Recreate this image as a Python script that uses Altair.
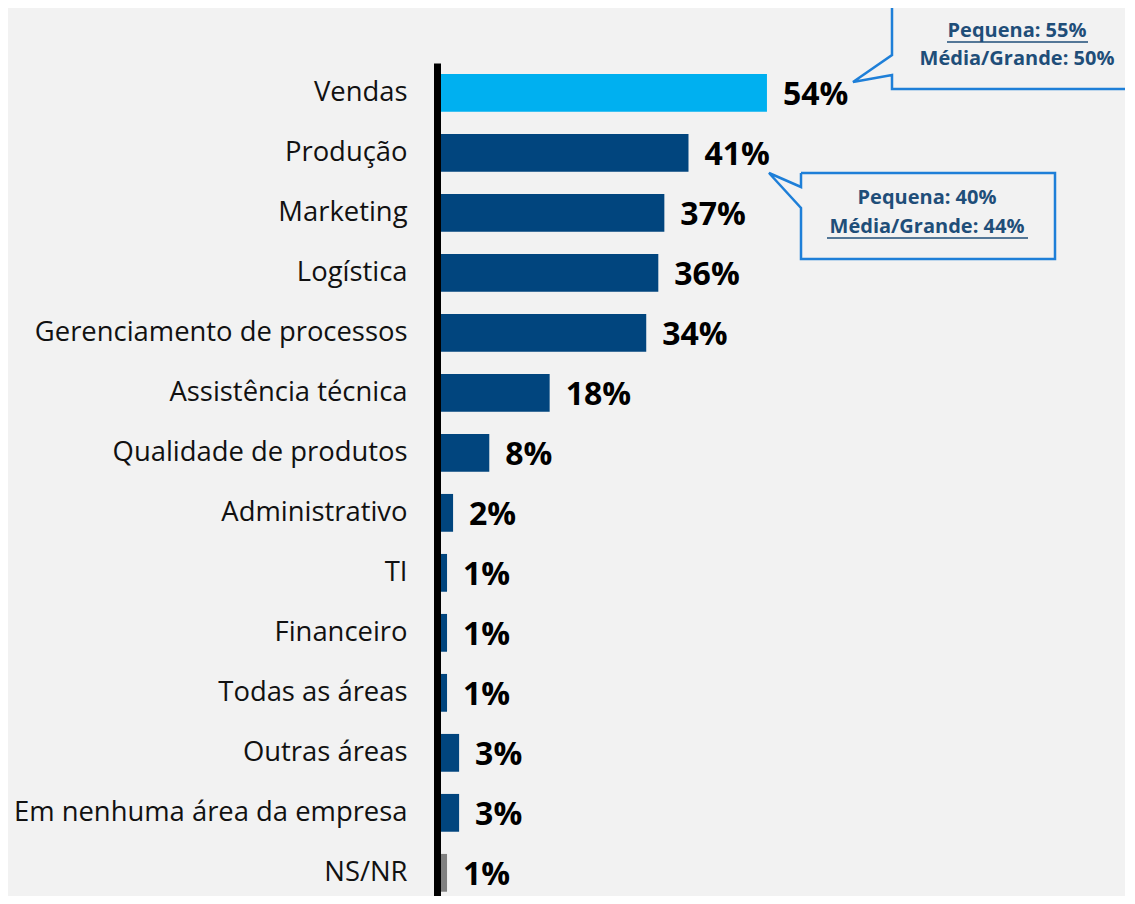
import altair as alt
import pandas as pd

categories = ["Vendas", "Produção", "Marketing", "Logística", "Gerenciamento de processos",
              "Assistência técnica", "Qualidade de produtos", "Administrativo", "TI",
              "Financeiro", "Todas as áreas", "Outras áreas", "Em nenhuma área da empresa", "NS/NR"]
values = [54, 41, 37, 36, 34, 18, 8, 2, 1, 1, 1, 3, 3, 1]
labels = [f"{v}%" for v in values]
groups = ["destaque" if c == "Vendas" else ("nsnr" if c == "NS/NR" else "padrao") for c in categories]

# callouts (annotation text)
callout_lines = ["Pequena: 55%", "Média/Grande: 50%", "Pequena: 40%", "Média/Grande: 44%"]

BG = "#F2F2F2"
DARK = "#01457E"
LIGHT = "#00B0F0"
GRAY = "#808080"
CALL_STROKE = "#1E7FD8"
CALL_TEXT = "#1F4E79"

OX, OY = 441, 63  # plot origin on page
PADL, PADT = OX - 8, OY - 8

df = pd.DataFrame({"cat": categories, "val": values, "lab": labels, "grp": groups})

W, H = 664, 833

y = alt.Y("cat:N", sort=categories,
          scale=alt.Scale(paddingInner=0.37, paddingOuter=0.127, align=0.72),
          axis=alt.Axis(title=None, ticks=False, domainColor="black", domainWidth=7,
                        offset=4, labelPadding=30, labelFont="Open Sans",
                        labelFontSize=27.4, labelColor="#111111", labelLimit=600))
x = alt.X("val:Q", scale=alt.Scale(domain=[0, 110]), axis=None)

bars = alt.Chart(df).mark_bar().encode(
    x=x, y=y,
    color=alt.Color("grp:N", scale=alt.Scale(domain=["destaque", "padrao", "nsnr"],
                                             range=[LIGHT, DARK, GRAY]), legend=None),
)
text = alt.Chart(df).mark_text(align="left", baseline="middle", dx=16, dy=2,
                               font="Open Sans", fontWeight="bold", fontSize=32,
                               color="black").encode(x=x, y=alt.Y("cat:N", sort=categories), text="lab:N")
base = alt.layer(bars, text)

# callout outlines (page pixels converted to plot pixels)
box1 = [(1140, 5), (892, 5), (892, 55), (853, 82), (892, 75), (892, 89), (1140, 89)]
box2 = [(801, 173), (801, 187), (769, 173), (801, 208), (801, 259), (1055, 259), (1055, 173), (801, 173)]
rows = []
for b, pts in enumerate([box1, box2]):
    for i, (px, py) in enumerate(pts):
        rows.append({"b": b, "i": i, "px": px - OX, "py": py - OY})
outline = alt.Chart(pd.DataFrame(rows)).mark_line(color=CALL_STROKE, strokeWidth=2.5).encode(
    x=alt.X("px:Q", scale=None, axis=None), y=alt.Y("py:Q", scale=None, axis=None),
    detail="b:N", order="i:Q")

ctext = pd.DataFrame({"t": callout_lines,
                      "px": [1017 - OX, 1017 - OX, 927 - OX, 927 - OX],
                      "py": [31 - OY, 59 - OY, 198 - OY, 227 - OY]})
ctext_chart = alt.Chart(ctext).mark_text(font="Open Sans", fontWeight="bold", fontSize=20,
                                         color=CALL_TEXT, baseline="middle", align="center").encode(
    x=alt.X("px:Q", scale=None, axis=None), y=alt.Y("py:Q", scale=None, axis=None), text="t:N")

ul = pd.DataFrame({"x1": [947 - OX, 827 - OX], "x2": [1088 - OX, 1028 - OX],
                   "y1": [42 - OY, 238 - OY]})
underline = alt.Chart(ul).mark_rule(color=CALL_TEXT, strokeWidth=1.5).encode(
    x=alt.X("x1:Q", scale=None, axis=None), x2="x2:Q",
    y=alt.Y("y1:Q", scale=None, axis=None))

chart = alt.layer(base, outline, ctext_chart, underline).resolve_scale(
    x="independent", y="independent"
).properties(
    width=W, height=H, background=BG,
    autosize=alt.AutoSizeParams(type="none"),
    padding={"left": PADL, "top": PADT, "right": 20, "bottom": 0},
).configure_view(stroke=None)

chart.save("out.html", embed_options={"renderer": "svg", "actions": False})
